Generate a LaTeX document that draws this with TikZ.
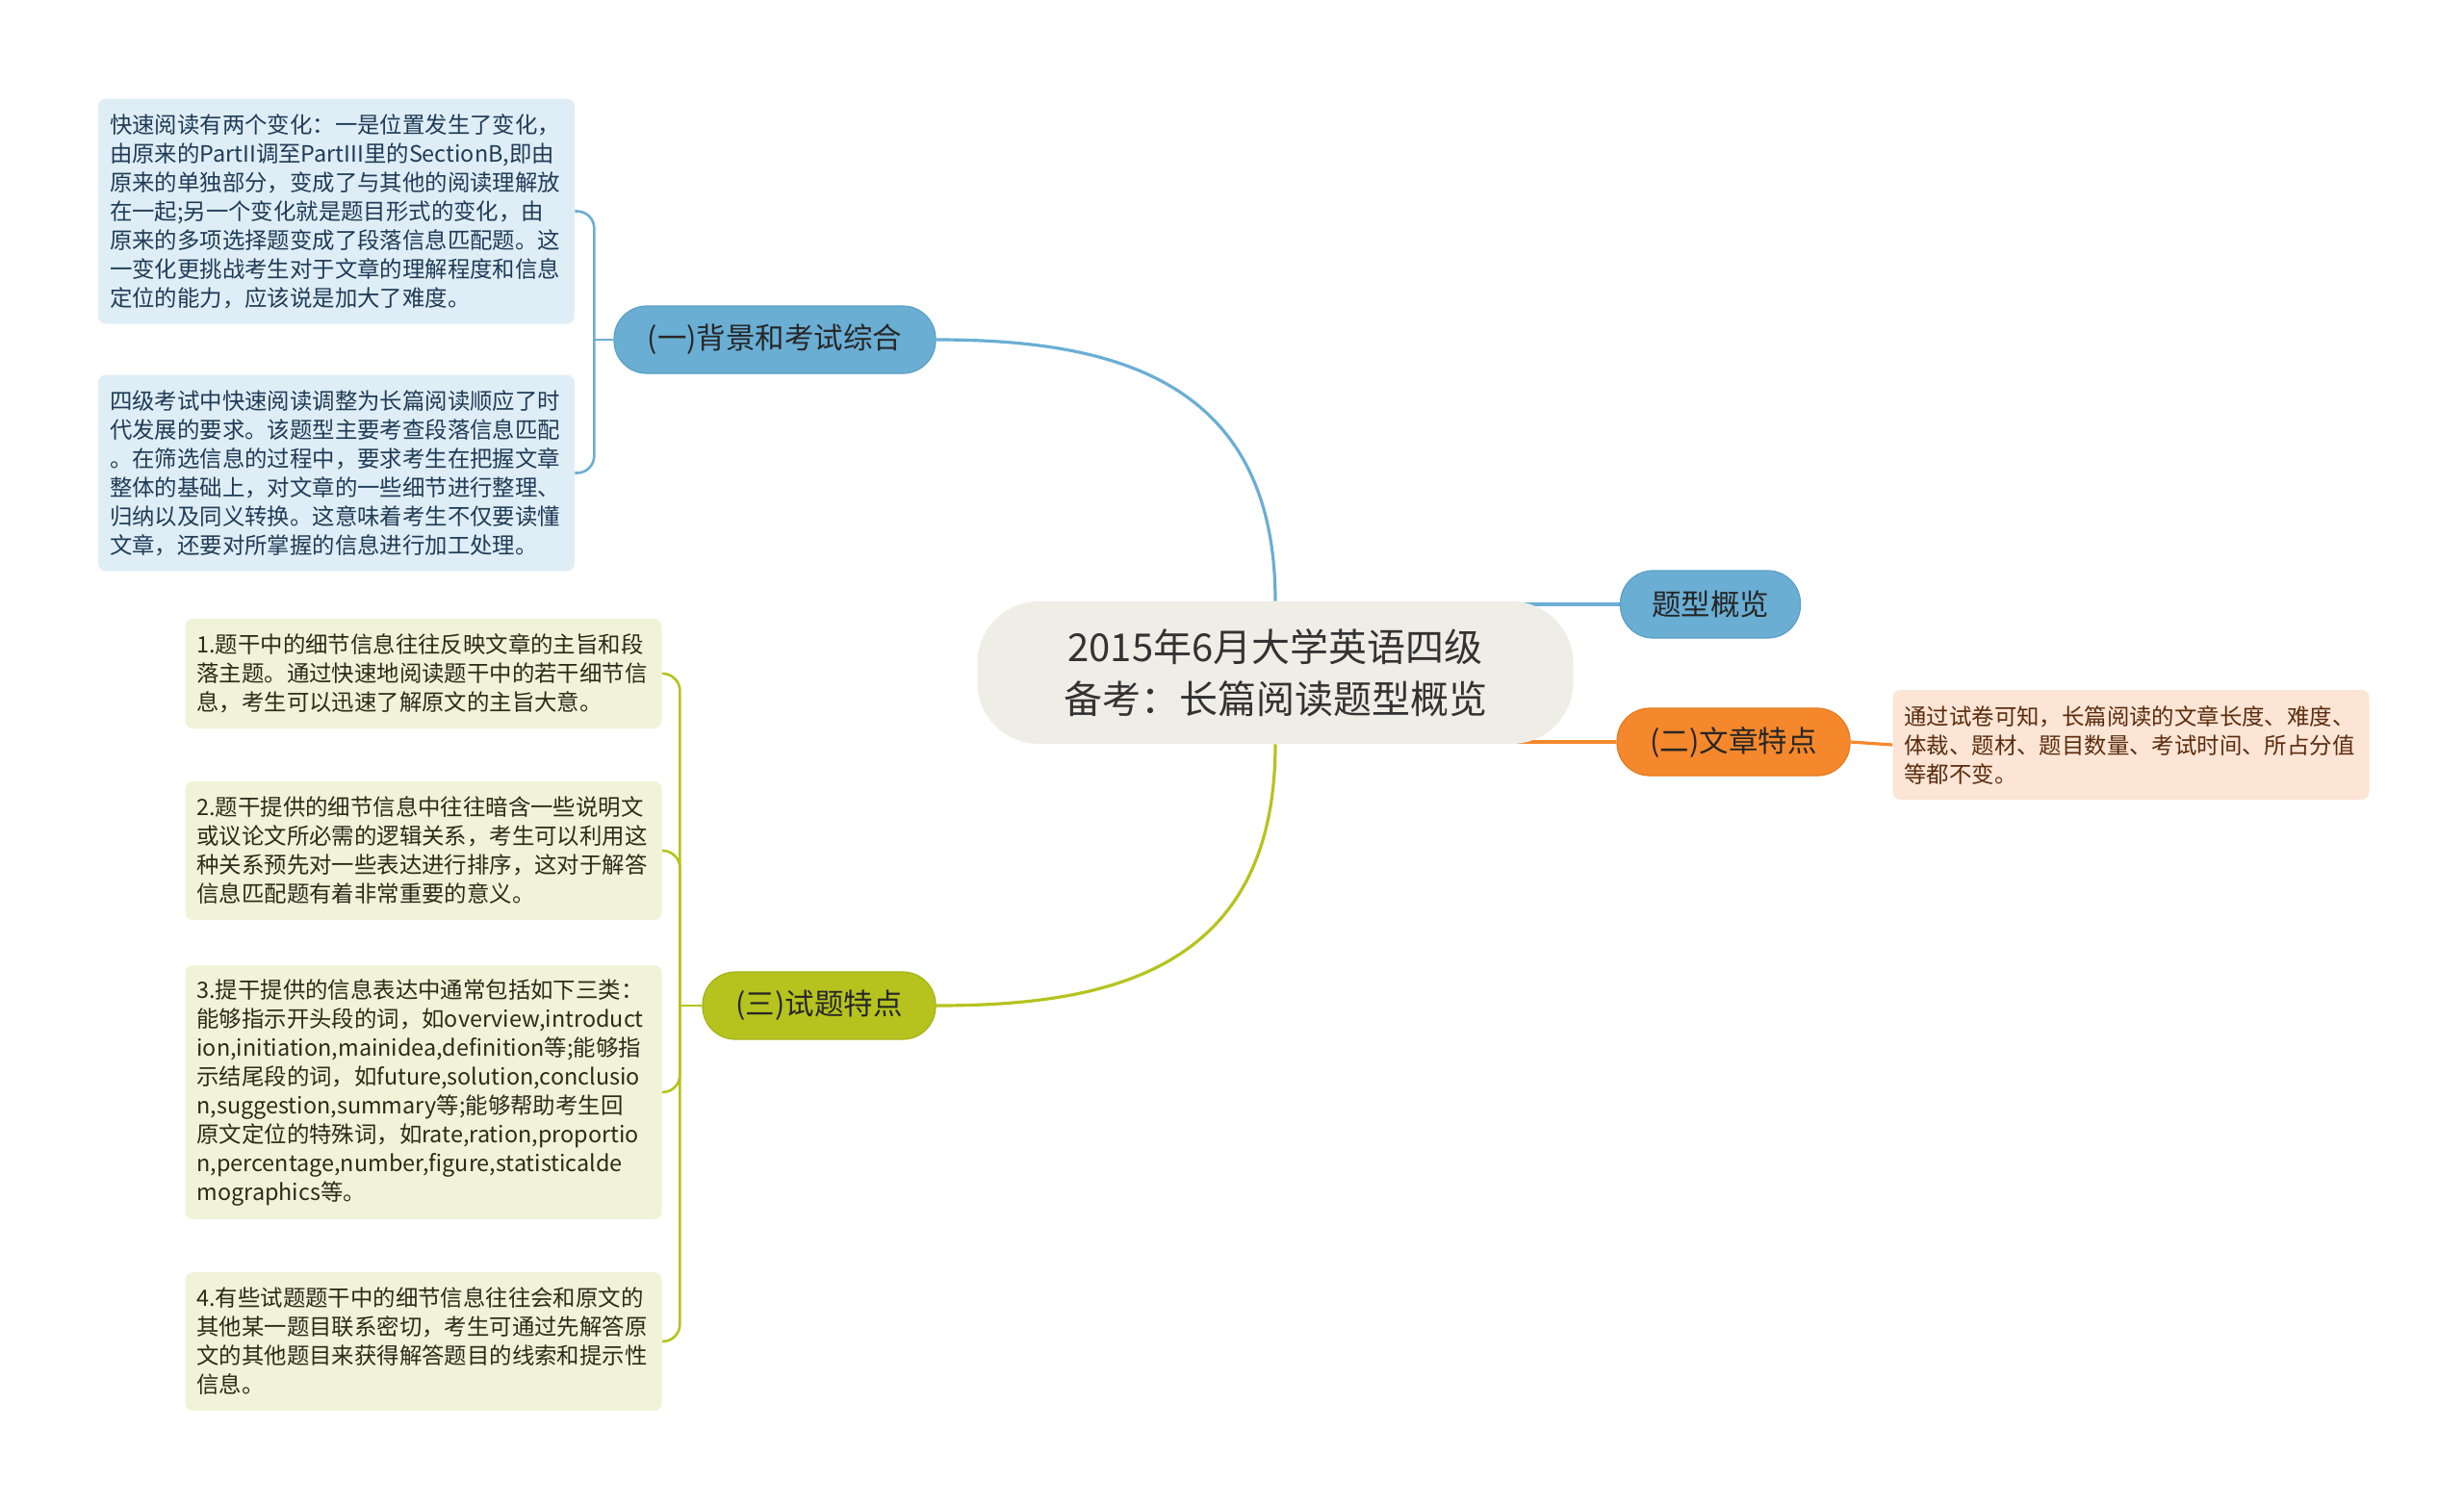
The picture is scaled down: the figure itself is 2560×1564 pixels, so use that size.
\documentclass[tikz,border=0pt]{standalone}
\usepackage{fontspec}
\setmainfont{Noto Sans CJK SC}
\usetikzlibrary{backgrounds,calc}
\definecolor{cblue}{HTML}{6AAED4}
\definecolor{cbluedk}{HTML}{5C9FC6}
\definecolor{cbluebox}{HTML}{DFEEF6}
\definecolor{cbluetxt}{HTML}{1F3B57}
\definecolor{cgreen}{HTML}{B6C31E}
\definecolor{cgreendk}{HTML}{A5B218}
\definecolor{cgreenbox}{HTML}{F1F3D9}
\definecolor{cgreentxt}{HTML}{2B2B18}
\definecolor{corange}{HTML}{F5882C}
\definecolor{corangedk}{HTML}{E57A20}
\definecolor{corangebox}{HTML}{FCE5D5}
\definecolor{corangetxt}{HTML}{5B2C0D}
\definecolor{ccentral}{HTML}{EFEEE6}
\definecolor{ctxt}{HTML}{333333}
\begin{document}
\begin{tikzpicture}[x=0.5pt,y=-0.5pt,
  txtbox/.style={rectangle, rounded corners=4pt, inner xsep=6pt, inner ysep=0pt,
    text width=235.5pt, align=left, font=\fontsize{11.7pt}{15pt}\selectfont},
  bluebox/.style={txtbox, fill=cbluebox, text=cbluetxt},
  greenbox/.style={txtbox, fill=cgreenbox, text=cgreentxt},
  orangebox/.style={txtbox, fill=corangebox, text=corangetxt},
  branch/.style={rectangle, rounded corners=17pt, minimum height=35pt, inner xsep=0pt,
    line width=0.6pt, align=center, font=\fontsize{15.25pt}{18pt}\selectfont},
  centralnode/.style={rectangle, rounded corners=32pt, fill=ccentral, text=ctxt,
    minimum width=309.5pt, minimum height=74pt, align=center,
    font=\fontsize{20pt}{27pt}\selectfont},
  mainline/.style={line width=1.6pt},
  bracket/.style={line width=1.3pt, rounded corners=9pt}
]
\useasboundingbox (0,0) rectangle (2560,1564);

% central
\node[centralnode] (c) at (1325,699) {2015年6月大学英语四级\\备考：长篇阅读题型概览};

% branches
\node[branch, fill=cblue, draw=cbluedk, text=black!85, minimum width=167pt] (a) at (805,353) {(一)背景和考试综合};
\node[branch, fill=cblue, draw=cbluedk, text=black!85, minimum width=93.5pt] (t) at (1777,628) {题型概览};
\node[branch, fill=corange, draw=corangedk, text=black!85, minimum width=121pt] (o) at (1801,771) {(二)文章特点};
\node[branch, fill=cgreen, draw=cgreendk, text=black!85, minimum width=121pt] (g) at (851,1045) {(三)试题特点};

% text boxes of (一)
\node[bluebox, minimum height=117pt] (a1) at (349.5,219.5) {快速阅读有两个变化：一是位置发生了变化，\\由原来的PartII调至PartIII里的SectionB,即由\\原来的单独部分，变成了与其他的阅读理解放\\在一起;另一个变化就是题目形式的变化，由\\原来的多项选择题变成了段落信息匹配题。这\\一变化更挑战考生对于文章的理解程度和信息\\定位的能力，应该说是加大了难度。};
\node[bluebox, minimum height=102pt] (a2) at (349.5,491.5) {四级考试中快速阅读调整为长篇阅读顺应了时\\代发展的要求。该题型主要考查段落信息匹配\\。在筛选信息的过程中，要求考生在把握文章\\整体的基础上，对文章的一些细节进行整理、\\归纳以及同义转换。这意味着考生不仅要读懂\\文章，还要对所掌握的信息进行加工处理。};

% text box of (二)
\node[orangebox, minimum height=57pt] (o1) at (2214,774) {通过试卷可知，长篇阅读的文章长度、难度、\\体裁、题材、题目数量、考试时间、所占分值\\等都不变。};

% text boxes of (三)
\node[greenbox, minimum height=57pt] (g1) at (440,700) {1.题干中的细节信息往往反映文章的主旨和段\\落主题。通过快速地阅读题干中的若干细节信\\息，考生可以迅速了解原文的主旨大意。};
\node[greenbox, minimum height=72pt] (g2) at (440,884) {2.题干提供的细节信息中往往暗含一些说明文\\或议论文所必需的逻辑关系，考生可以利用这\\种关系预先对一些表达进行排序，这对于解答\\信息匹配题有着非常重要的意义。};
\node[greenbox, minimum height=132pt] (g3) at (440,1135) {3.提干提供的信息表达中通常包括如下三类：\\能够指示开头段的词，如overview,introduct\\ion,initiation,mainidea,definition等;能够指\\示结尾段的词，如future,solution,conclusio\\n,suggestion,summary等;能够帮助考生回\\原文定位的特殊词，如rate,ration,proportio\\n,percentage,number,figure,statisticalde\\mographics等。};
\node[greenbox, minimum height=72pt] (g4) at (440,1394) {4.有些试题题干中的细节信息往往会和原文的\\其他某一题目联系密切，考生可通过先解答原\\文的其他题目来获得解答题目的线索和提示性\\信息。};

\begin{scope}[on background layer]
  \fill[white] (0,0) rectangle (2560,1564);
  % main connectors
  \draw[mainline, cblue] (c.north) .. controls (1325,390) and (1150,353) .. (a.east);
  \draw[mainline, cblue] (c.center |- t.west) -- (t.west);
  \draw[mainline, corange] (c.center |- o.west) -- (o.west);
  \draw[mainline, cgreen] (c.south) .. controls (1325,1010) and (1150,1045) .. (g.east);
  \draw[mainline, corange] (o.east) -- (o1.west);
  % brackets (一)
  \draw[bracket, cblue] (a.west) -- ++(-20,0) coordinate (aj);
  \draw[bracket, cblue] (aj) |- (a1.east);
  \draw[bracket, cblue] (aj) |- (a2.east);
  % brackets (三)
  \draw[bracket, cgreen] (g.west) -- ++(-23,0) coordinate (gj);
  \draw[bracket, cgreen] (gj) |- (g1.east);
  \draw[bracket, cgreen] (gj) |- (g2.east);
  \draw[bracket, cgreen] (gj) |- (g3.east);
  \draw[bracket, cgreen] (gj) |- (g4.east);
\end{scope}
\end{tikzpicture}
\end{document}
